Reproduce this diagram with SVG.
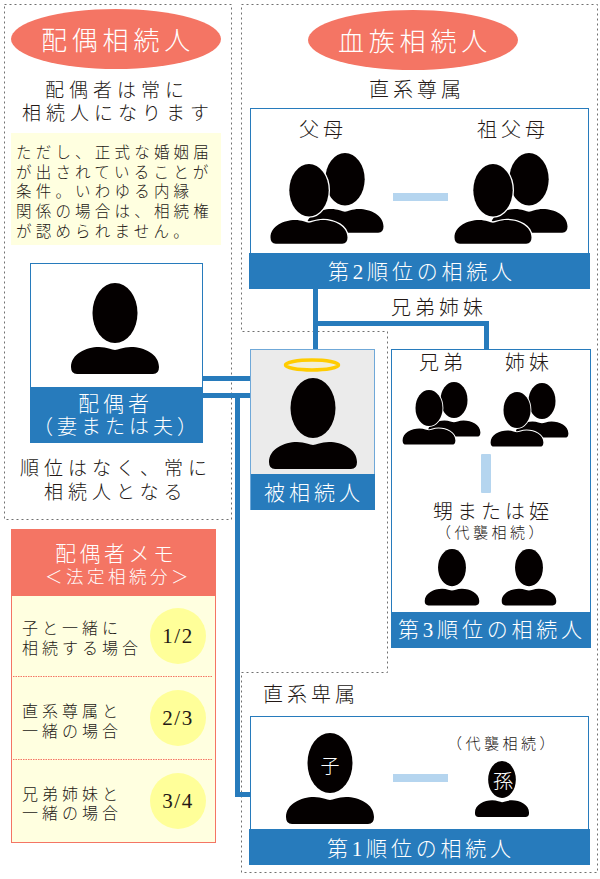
<svg xmlns="http://www.w3.org/2000/svg" xmlns:xlink="http://www.w3.org/1999/xlink" width="600" height="879" viewBox="0 0 600 879">
<style>
text{font-family:"Liberation Serif","Noto Sans CJK JP",serif;font-weight:300;fill:#231815;white-space:pre}
.w{fill:#fff}
.t26{font-size:26px;letter-spacing:4.800px}
.t20{font-size:20px;letter-spacing:4px}
.bt{font-size:21px;letter-spacing:3.800px;fill:#fff}
.t19{font-size:19px;letter-spacing:5px}
.t15{font-size:15px;letter-spacing:3.500px}
.tn{font-size:15.500px;letter-spacing:4.200px}
.t16{font-size:16px;letter-spacing:4px}
.frac{font-size:21px;letter-spacing:1.500px;text-anchor:middle}
.band{fill:#277BBC}
.frame{fill:#fff;stroke:#277BBC;stroke-width:1}
.zone{fill:none;stroke:#707070;stroke-width:1;stroke-dasharray:2 3}
.oval{fill:#F47564}
.bar{fill:#B5D5EF}
.disc{fill:#FFFF99}
.conn{fill:#277BBC}
.rule{stroke:#F47564;stroke-width:1;stroke-dasharray:1.500 1}
</style>
<defs>
<g id="person" fill="#040000"><ellipse cx="0" cy="30" rx="22.500" ry="30"/><path d="M-44 84C-44 71-29 64-16 64C-8 64-3 67 0 67C3 67 8 64 16 64C29 64 44 71 44 84Q44 91 38 91H-38Q-44 91-44 84Z"/></g>
<g id="personO" fill="#040000" stroke="#fff" stroke-width="3" paint-order="stroke"><ellipse cx="0" cy="30" rx="22.500" ry="30"/><path d="M-44 84C-44 71-29 64-16 64C-8 64-3 67 0 67C3 67 8 64 16 64C29 64 44 71 44 84Q44 91 38 91H-38Q-44 91-44 84Z"/></g>
</defs>
<rect width="600" height="879" fill="#fff"/>
<g id="zones">
<rect class="zone" x="4.500" y="4.500" width="227" height="515"/>
<path class="zone" d="M241.500 4.500H597.500V872.500H241.500V672.500H387.500V331.500H241.500Z"/>
</g>
<g id="connectors">
<rect class="conn" x="313" y="289" width="5" height="60"/>
<rect class="conn" x="313" y="321" width="176" height="5"/>
<rect class="conn" x="484" y="321" width="5" height="28"/>
<rect class="conn" x="203" y="376" width="48" height="5"/>
<rect class="conn" x="203" y="393" width="48" height="5"/>
<rect class="conn" x="235" y="393" width="5" height="404"/>
<rect class="conn" x="235" y="792" width="16" height="5"/>
</g>
<g id="spouse-heading"><ellipse class="oval" cx="116" cy="39" rx="105" ry="30"/><text class="w t26" x="41" y="50">配偶相続人</text></g>
<g id="blood-heading"><ellipse class="oval" cx="413" cy="40" rx="105" ry="30"/><text class="w t26" x="338" y="51">血族相続人</text></g>
<g id="spouse-note">
<text class="t19" x="45" y="97">配偶者は常に</text>
<text class="t19" x="22" y="120">相続人になります</text>
<rect x="11" y="133" width="210" height="112" fill="#FFFFE0"/>
<text class="tn" x="16" y="158">ただし、正式な婚姻届</text>
<text class="tn" x="16" y="177.700">が出されていることが</text>
<text class="tn" x="16" y="197.400">条件。いわゆる内縁</text>
<text class="tn" x="16" y="217">関係の場合は、相続権</text>
<text class="tn" x="16" y="236.800">が認められません。</text>
</g>
<g id="spouse">
<rect class="frame" x="30.500" y="263.500" width="172" height="124"/>
<use xlink:href="#person" href="#person" transform="translate(115 283)"/>
<rect class="band" x="30" y="387" width="173" height="56"/>
<text class="bt" x="78" y="411" style="letter-spacing:4px">配偶者</text>
<text class="bt" x="33" y="434" style="font-size:20px;letter-spacing:4px">（妻または夫）</text>
</g>
<g id="spouse-rank">
<text class="t19" x="20" y="475">順位はなく、常に</text>
<text class="t19" x="44" y="499">相続人となる</text>
</g>
<g id="memo">
<rect x="11.500" y="529.500" width="204" height="313" fill="#FFFFE0" stroke="#F47564"/>
<rect class="oval" x="11" y="529" width="205" height="67"/>
<text class="bt" x="55" y="561" style="letter-spacing:3.500px">配偶者メモ</text>
<text class="w" x="45" y="582.500" style="font-size:17.500px;letter-spacing:3.500px">＜法定相続分＞</text>
<line class="rule" x1="13" y1="676.500" x2="212" y2="676.500"/>
<line class="rule" x1="13" y1="759.500" x2="212" y2="759.500"/>
<text class="t16" x="22" y="634">子と一緒に</text>
<text class="t16" x="22" y="654">相続する場合</text>
<circle class="disc" cx="178" cy="636" r="28"/>
<text class="frac" x="178" y="643">1/2</text>
<text class="t16" x="22" y="717">直系尊属と</text>
<text class="t16" x="22" y="737">一緒の場合</text>
<circle class="disc" cx="178" cy="718" r="28"/>
<text class="frac" x="178" y="725">2/3</text>
<text class="t16" x="22" y="800">兄弟姉妹と</text>
<text class="t16" x="22" y="819">一緒の場合</text>
<circle class="disc" cx="178" cy="801" r="28"/>
<text class="frac" x="178" y="808">3/4</text>
</g>
<g id="ascendants">
<text class="t20" x="369" y="97">直系尊属</text>
<rect class="frame" x="250.500" y="108.500" width="338" height="145"/>
<text class="t20" x="299" y="137">父母</text>
<text class="t20" x="477" y="137">祖父母</text>
<use xlink:href="#person" href="#person" transform="translate(345 153) scale(.875)"/>
<use xlink:href="#personO" href="#personO" transform="translate(309 164) scale(.875)"/>
<rect class="bar" x="393" y="193" width="55" height="8"/>
<use xlink:href="#person" href="#person" transform="translate(529 153) scale(.875)"/>
<use xlink:href="#personO" href="#personO" transform="translate(493 164) scale(.875)"/>
<rect class="band" x="249" y="253" width="341" height="36"/>
<text class="bt" x="328" y="279">第2順位の相続人</text>
</g>
<g id="siblings-label"><text class="t20" x="391" y="315">兄弟姉妹</text></g>
<g id="deceased">
<rect x="250.500" y="349.500" width="124" height="160" fill="#EBEBEB" stroke="#6FA8D8"/>
<ellipse cx="312" cy="365" rx="26.500" ry="5" fill="#F2EFD8" stroke="#FFCC00" stroke-width="3.500"/>
<use xlink:href="#person" href="#person" transform="translate(313 378)"/>
<rect class="band" x="251" y="474" width="124" height="36"/>
<text class="bt" x="264" y="500" style="letter-spacing:4px">被相続人</text>
</g>
<g id="siblings">
<rect class="frame" x="391.500" y="349.500" width="199" height="263"/>
<text class="t20" x="419" y="370">兄弟</text>
<text class="t20" x="505" y="370">姉妹</text>
<use xlink:href="#person" href="#person" transform="translate(454 382) scale(.6)"/>
<use xlink:href="#personO" href="#personO" transform="translate(429 390) scale(.6)"/>
<use xlink:href="#person" href="#person" transform="translate(542 383) scale(.6)"/>
<use xlink:href="#personO" href="#personO" transform="translate(517 392) scale(.6)"/>
<rect class="bar" x="481" y="454" width="10" height="39" rx="1"/>
<text class="t20" x="433" y="519">甥または姪</text>
<text class="t15" x="436" y="538">（代襲相続）</text>
<use xlink:href="#person" href="#person" transform="translate(452 549) scale(.62)"/>
<use xlink:href="#person" href="#person" transform="translate(529 549) scale(.62)"/>
<rect class="band" x="391" y="612" width="200" height="36"/>
<text class="bt" x="398" y="637">第3順位の相続人</text>
</g>
<g id="descendants">
<text class="t20" x="263" y="702">直系卑属</text>
<rect class="frame" x="250.500" y="716.500" width="338" height="113"/>
<use xlink:href="#person" href="#person" transform="translate(330 733)"/>
<text class="w" x="330" y="773" text-anchor="middle" font-size="19">子</text>
<rect class="bar" x="393" y="774" width="55" height="8"/>
<text class="t15" x="447" y="749">（代襲相続）</text>
<use xlink:href="#person" href="#person" transform="translate(502 761) scale(.615)"/>
<text class="w" x="503" y="789" text-anchor="middle" font-size="20">孫</text>
<rect class="band" x="249" y="829" width="341" height="36"/>
<text class="bt" x="327" y="856">第1順位の相続人</text>
</g>
</svg>
